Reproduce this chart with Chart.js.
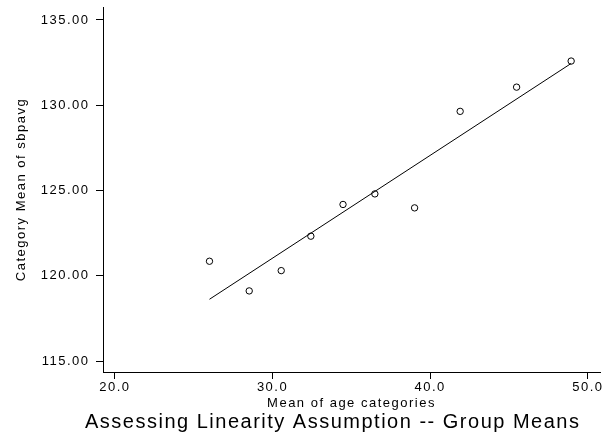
<!DOCTYPE html>
<html><head><meta charset="utf-8">
<script src="https://cdn.jsdelivr.net/npm/chart.js@4"></script>
<style>html,body{margin:0;padding:0;background:#fff;} canvas{display:block;}</style>
</head><body>
<canvas id="c" width="605" height="433"></canvas>
<script>
const ageMeans = [26.0, 28.52, 30.55, 32.43, 34.47, 36.49, 39.01, 41.90, 45.48, 48.94];
const sbpMeans = [120.85, 119.11, 120.30, 122.32, 124.18, 124.80, 123.98, 129.64, 131.06, 132.59];
const fitX = [26.0, 48.94];
const fitY = [118.62, 132.45];
const xTicks = [20, 30, 40, 50];
const yTicks = [115, 120, 125, 130, 135];
const chartTitle = 'Assessing Linearity Assumption -- Group Means';
const xTitle = 'Mean of age categories';
const yTitle = 'Category Mean of sbpavg';

const FONT = 'Liberation Sans';
const SPACING = '1.5px';

const textPlugin = {
  id: 'txt',
  beforeUpdate(chart) { chart.ctx.letterSpacing = SPACING; },
  beforeDraw(chart) { chart.ctx.letterSpacing = SPACING; },
  afterDraw(chart) {
    const ctx = chart.ctx;
    const a = chart.chartArea;
    ctx.save();
    ctx.letterSpacing = SPACING;
    ctx.fillStyle = '#000';
    ctx.textBaseline = 'alphabetic';
    ctx.font = '20px "' + FONT + '"';
    ctx.textAlign = 'left';
    ctx.fillText(chartTitle, 85, 428);
    ctx.font = '13px "' + FONT + '"';
    ctx.textAlign = 'center';
    ctx.fillText(xTitle, (a.left + a.right) / 2, 407);
    ctx.translate(25, (a.top + a.bottom) / 2);
    ctx.rotate(-Math.PI / 2);
    ctx.fillText(yTitle, 0, 0);
    ctx.restore();
  }
};

const points = ageMeans.map((x, i) => ({x: x, y: sbpMeans[i]}));
const fitLine = fitX.map((x, i) => ({x: x, y: fitY[i]}));

new Chart(document.getElementById('c'), {
  type: 'scatter',
  data: {
    datasets: [
      {
        data: points,
        pointStyle: 'circle',
        pointRadius: 3.2,
        pointBorderWidth: 1,
        pointBorderColor: '#000',
        pointBackgroundColor: 'rgba(0,0,0,0)',
        showLine: false,
        order: 1
      },
      {
        data: fitLine,
        showLine: true,
        borderColor: '#000',
        borderWidth: 1,
        pointRadius: 0,
        fill: false,
        order: 2
      }
    ]
  },
  options: {
    responsive: false,
    devicePixelRatio: 1,
    animation: false,
    layout: {padding: {top: 7, right: 0, bottom: 0, left: 0}},
    plugins: {legend: {display: false}, tooltip: {enabled: false}, title: {display: false}},
    scales: {
      x: {
        type: 'linear',
        min: 19.246,
        max: 50.77,
        afterBuildTicks: s => { s.ticks = xTicks.map(v => ({value: v})); },
        afterFit: s => { s.height = 61; s.paddingLeft = 0; s.paddingRight = 0; },
        ticks: {
          callback: v => Number(v).toFixed(1),
          font: {family: FONT, size: 13},
          color: '#000',
          padding: 1,
          maxRotation: 0,
          autoSkip: false
        },
        grid: {drawOnChartArea: false, drawTicks: true, tickLength: 7, color: '#000', lineWidth: 1},
        border: {display: true, color: '#000', width: 1},
        title: {display: false}
      },
      y: {
        type: 'linear',
        min: 114.355,
        max: 135.76,
        afterBuildTicks: s => { s.ticks = yTicks.map(v => ({value: v})); },
        afterFit: s => { s.width = 103; s.paddingTop = 0; s.paddingBottom = 0; },
        ticks: {
          callback: v => Number(v).toFixed(2),
          font: {family: FONT, size: 13},
          color: '#000',
          padding: 6.5,
          autoSkip: false
        },
        grid: {drawOnChartArea: false, drawTicks: true, tickLength: 7, color: '#000', lineWidth: 1},
        border: {display: true, color: '#000', width: 1},
        title: {display: false}
      }
    }
  },
  plugins: [textPlugin]
});
</script>
</body></html>
